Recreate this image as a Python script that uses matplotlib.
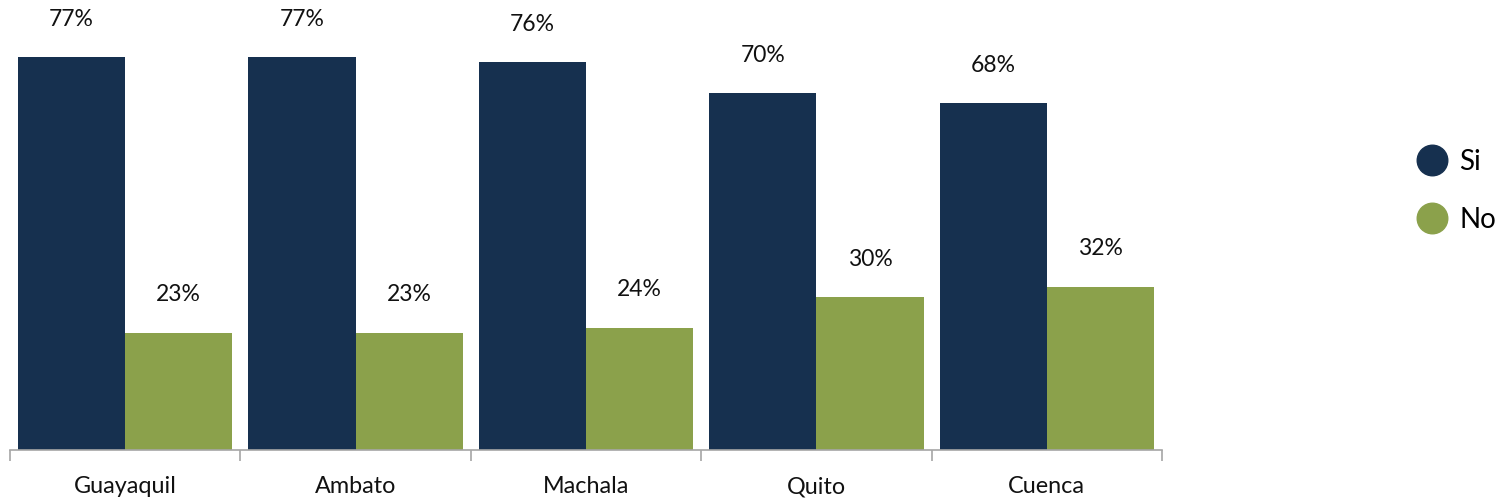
import matplotlib
matplotlib.use("Agg")
import matplotlib.pyplot as plt
from matplotlib.lines import Line2D
import numpy as np

categories = ["Guayaquil", "Ambato", "Machala", "Quito", "Cuenca"]
si_values = [77, 77, 76, 70, 68]
no_values = [23, 23, 24, 30, 32]
series_names = ["Si", "No"]

navy = "#16304F"
green = "#8BA14B"

plt.rcParams['font.family'] = ['Lato', 'DejaVu Sans']

fig = plt.figure(figsize=(15, 5), dpi=100)
ax = fig.add_axes([10/1500, 0.1, (1162-10)/1500, 0.9])

x = np.arange(len(categories))
w = 0.465
b1 = ax.bar(x - w/2, si_values, w, color=navy, label=series_names[0])
b2 = ax.bar(x + w/2, no_values, w, color=green, label=series_names[1])

for bars, vals in ((b1, si_values), (b2, no_values)):
    for rect, v in zip(bars, vals):
        ax.annotate(f"{v}%", (rect.get_x() + rect.get_width()/2, rect.get_height()),
                    xytext=(0, 22.5), textcoords="offset points",
                    ha="center", va="baseline", fontsize=16.5, color="#111111")

ax.set_xlim(-0.5, len(categories) - 0.5)
ax.set_ylim(0, 88.2)
for s in ("top", "right", "left"):
    ax.spines[s].set_visible(False)
ax.spines["bottom"].set_color("#A6A6A6")
ax.spines["bottom"].set_linewidth(1.2)
ax.set_yticks([])
ax.set_xticks(x)
ax.set_xticklabels(categories, fontsize=16.8, color="#111111")
ax.tick_params(axis="x", which="major", length=0, pad=19)
ax.set_xticks(np.arange(-0.5, len(categories)), minor=True)
ax.tick_params(axis="x", which="minor", length=8, color="#A6A6A6", width=1.2)

handles = [Line2D([], [], marker="o", linestyle="none", markersize=22,
                  markerfacecolor=c, markeredgecolor=c) for c in (navy, green)]
fig.legend(handles, series_names, loc="center left", bbox_to_anchor=(1415/1500, 1 - 191/500),
           frameon=False, fontsize=20, handletextpad=0.4, labelspacing=1.15,
           handlelength=1.2, borderpad=0, borderaxespad=0)

fig.savefig("out.png", dpi=100)
